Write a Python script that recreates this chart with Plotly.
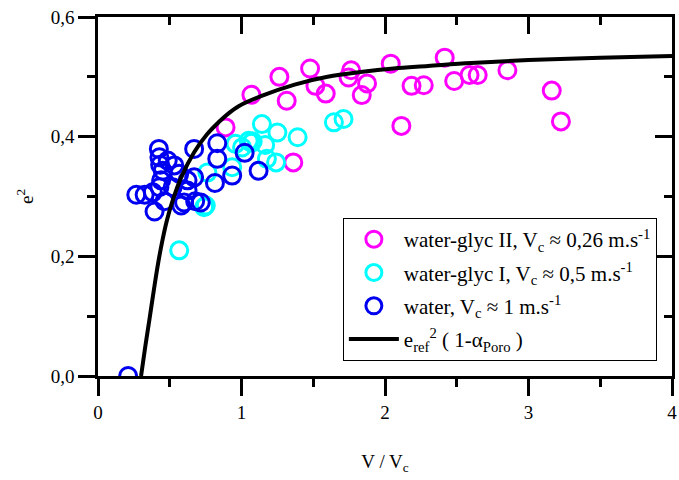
import plotly.graph_objects as go

# ---- data ----
glyc2_x = [0.889, 1.069, 1.264, 1.315, 1.361, 1.478, 1.515, 1.587, 1.746, 1.764, 1.838, 1.875,
           2.040, 2.114, 2.185, 2.270, 2.416, 2.482, 2.589, 2.646, 2.853, 3.162, 3.226]
glyc2_y = [0.4155, 0.470, 0.500, 0.460, 0.357, 0.514, 0.485, 0.472, 0.499, 0.511, 0.4695, 0.489,
           0.522, 0.418, 0.485, 0.486, 0.532, 0.493, 0.503, 0.503, 0.511, 0.477, 0.4255]

glyc1_x = [0.566, 0.739, 0.751, 0.762, 0.935, 0.958, 1.004, 1.050, 1.069, 1.078, 1.142, 1.165,
           1.177, 1.241, 1.250, 1.391, 1.644, 1.711]
glyc1_y = [0.210, 0.282, 0.285, 0.340, 0.349, 0.388, 0.382, 0.393, 0.390, 0.392, 0.421, 0.386,
           0.363, 0.357, 0.407, 0.399, 0.424, 0.4295]

water_x = [0.210, 0.267, 0.325, 0.382, 0.394, 0.424, 0.428, 0.428, 0.433, 0.440, 0.451, 0.463,
           0.486, 0.520, 0.532, 0.566, 0.580, 0.600, 0.624, 0.624, 0.670, 0.670, 0.677, 0.716,
           0.815, 0.831, 0.831, 0.935, 1.022, 1.119]
water_y = [0.000, 0.303, 0.303, 0.307, 0.275, 0.3795, 0.3655, 0.3155, 0.353, 0.327, 0.343, 0.292,
           0.360, 0.3155, 0.352, 0.338, 0.285, 0.290, 0.310, 0.327, 0.3795, 0.332, 0.292, 0.290,
           0.3225, 0.389, 0.363, 0.335, 0.373, 0.343]

curve_x = [0.30, 0.33, 0.36, 0.39, 0.42, 0.45, 0.48, 0.52, 0.58, 0.67, 0.76, 0.84, 0.91, 0.98,
           1.14, 1.37, 1.60, 1.83, 2.06, 2.30, 2.60, 3.00, 3.50, 4.00]
curve_y = [0.000, 0.050, 0.097, 0.145, 0.190, 0.228, 0.260, 0.293, 0.332, 0.374, 0.404, 0.424,
           0.439, 0.451, 0.468, 0.487, 0.500, 0.508, 0.514, 0.518, 0.523, 0.528, 0.532, 0.535]

x_ticks = [0, 1, 2, 3, 4]
y_ticks = [0.0, 0.2, 0.4, 0.6]

FONT = "Liberation Serif"

fig = go.Figure()

def circles(x, y, color, name, group):
    fig.add_trace(go.Scatter(
        x=x, y=y, mode="markers", name=name, legendgroup=group,
        marker=dict(symbol="circle-open", size=17, color=color,
                    line=dict(width=3, color=color)),
    ))

circles(glyc2_x, glyc2_y, "#FF00FF", "water-glyc II, V<sub>c</sub> ≈ 0,26 m.s<sup>-1</sup>", "g2")
circles(glyc1_x, glyc1_y, "#00FFFF", "water-glyc I, V<sub>c</sub> ≈ 0,5 m.s<sup>-1</sup>", "g1")
circles(water_x, water_y, "#0000F0", "water, V<sub>c</sub> ≈ 1 m.s<sup>-1</sup>", "w")

fig.add_trace(go.Scatter(
    x=curve_x, y=curve_y, mode="lines", line=dict(color="black", width=4, shape="spline"),
    name="e<sub>ref</sub><sup>2</sup> ( 1-α<sub>Poro</sub> )", legendgroup="c",
))

# dummy trace to activate mirror axes (top / right) with inward ticks
fig.add_trace(go.Scatter(x=[], y=[], xaxis="x2", yaxis="y2", showlegend=False, hoverinfo="skip"))

common = dict(showgrid=False, zeroline=False, showline=True, linecolor="black", linewidth=2.5,
              tickcolor="black", tickwidth=2.5, ticklen=17)

fig.update_layout(
    width=679, height=480,
    margin=dict(l=98, r=2, t=17, b=104),
    paper_bgcolor="white", plot_bgcolor="white",
    separators=",.",
    font=dict(family=FONT, size=18, color="black"),
    showlegend=True,
    xaxis=dict(range=[0, 4], tickvals=x_ticks, tickformat="d", ticks="outside",
               ticklabeloverflow="allow",
               minor=dict(dtick=0.5, ticklen=8, tickwidth=2.5, tickcolor="black", ticks="outside"),
               title=dict(text="V / V<sub>c</sub>", standoff=34, font=dict(size=19)),
               tickfont=dict(size=19), **common),
    yaxis=dict(range=[0, 0.6], tickvals=y_ticks, tickformat=".1f", ticks="outside",
               minor=dict(dtick=0.1, ticklen=8, tickwidth=2.5, tickcolor="black", ticks="outside"),
               title=dict(text="e<sup>2</sup>", standoff=13, font=dict(size=19)),
               tickfont=dict(size=19), **common),
    xaxis2=dict(range=[0, 4], overlaying="x", side="top", anchor="y", tickvals=x_ticks,
                ticks="inside", showticklabels=False,
                minor=dict(dtick=0.5, ticklen=8, tickwidth=2.5, tickcolor="black", ticks="inside"),
                **common),
    yaxis2=dict(range=[0, 0.6], overlaying="y", side="right", anchor="x", tickvals=y_ticks,
                ticks="inside", showticklabels=False,
                minor=dict(dtick=0.1, ticklen=8, tickwidth=2.5, tickcolor="black", ticks="inside"),
                **common),
    legend=dict(x=0.4266, y=0.44, xanchor="left", yanchor="top",
                bgcolor="white", bordercolor="black", borderwidth=1,
                font=dict(family=FONT, size=21), itemsizing="trace", itemwidth=50,
                tracegroupgap=3),
)

fig.write_html("out.html")
